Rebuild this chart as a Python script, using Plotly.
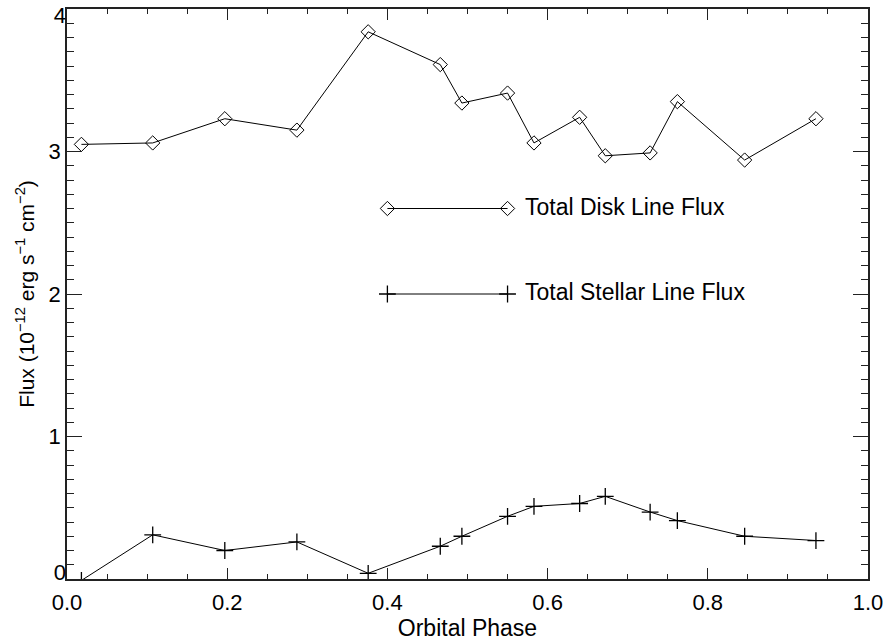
import plotly.graph_objects as go

# Orbital phase of each observation
phase = [0.018, 0.107, 0.197, 0.287, 0.376, 0.466, 0.493, 0.550,
         0.583, 0.640, 0.672, 0.728, 0.762, 0.846, 0.935]

# Total disk line flux (10^-12 erg s^-1 cm^-2)
disk_flux = [3.05, 3.06, 3.23, 3.15, 3.84, 3.61, 3.34, 3.41,
             3.06, 3.24, 2.97, 2.99, 3.35, 2.94, 3.23]

# Total stellar line flux (10^-12 erg s^-1 cm^-2)
stellar_flux = [-0.01, 0.31, 0.20, 0.26, 0.04, 0.23, 0.30, 0.44,
                0.51, 0.53, 0.58, 0.47, 0.41, 0.30, 0.27]

# Axis tick values
x_ticks = [0.0, 0.2, 0.4, 0.6, 0.8, 1.0]
y_ticks_inner = [1, 2, 3]
y_tick_bottom = [0]
y_tick_top = [4]
y_range = [0.0, 4.0]

# In-plot key: sample line ends and labels
key_x = [0.40, 0.55]
key_disk_y = [2.6, 2.6]
key_stellar_y = [2.0, 2.0]
key_labels = ["Total Disk Line Flux", "Total Stellar Line Flux"]

FONT = "Liberation Sans, Arial, Helvetica, sans-serif"
line_style = dict(color="black", width=1)
diamond = dict(symbol="diamond-open", size=11, color="black",
               line=dict(width=1, color="black"))
cross = dict(symbol="cross-thin-open", size=12, color="black",
             line=dict(width=1.3, color="black"))

fig = go.Figure()

fig.add_trace(go.Scatter(x=phase, y=disk_flux, mode="lines+markers",
                         line=line_style, marker=diamond, showlegend=False))
fig.add_trace(go.Scatter(x=phase, y=stellar_flux, mode="lines+markers",
                         line=line_style, marker=cross, showlegend=False))

# Key samples
fig.add_trace(go.Scatter(x=key_x, y=key_disk_y, mode="lines+markers",
                         line=line_style, marker=diamond, showlegend=False))
fig.add_trace(go.Scatter(x=key_x, y=key_stellar_y, mode="lines+markers",
                         line=line_style, marker=cross, showlegend=False))

for y, label in zip([key_disk_y[0], key_stellar_y[0]], key_labels):
    fig.add_annotation(
        x=key_x[1], y=y, text=label, showarrow=False,
        xanchor="left", yanchor="middle", xshift=15, yshift=2,
        font=dict(family=FONT, size=23, color="black"),
    )

tick_font = dict(family=FONT, size=22, color="black")
axis_common = dict(
    showgrid=False, zeroline=False,
    showline=True, linecolor="#222", linewidth=1.5,
    mirror="ticks", ticks="inside", tickcolor="#222", tickwidth=1,
    tickfont=tick_font, ticklabeloverflow="allow", automargin=False,
)

fig.update_xaxes(
    range=[0.0, 1.0], tickmode="array", tickvals=x_ticks,
    ticktext=[f"{v:.1f}" for v in x_ticks], ticklen=11,
    minor=dict(dtick=0.05, ticklen=5, ticks="inside", tickcolor="#222", tickwidth=1),
    title=dict(text="Orbital Phase", font=dict(family=FONT, size=23, color="black"),
               standoff=0),
    ticklabelstandoff=3,
    **axis_common,
)

# Main y axis: frame, all tick marks, labels of the inner ticks
fig.update_yaxes(
    range=y_range, tickmode="array",
    tickvals=y_tick_bottom + y_ticks_inner + y_tick_top,
    ticktext=[""] + [str(v) for v in y_ticks_inner] + [""], ticklen=15,
    minor=dict(dtick=0.1, ticklen=7, ticks="inside", tickcolor="#222", tickwidth=1),
    title=dict(text="Flux (10<sup>−12</sup> erg s<sup>−1</sup> cm<sup>−2</sup>)",
               font=dict(family=FONT, size=21, color="black"), standoff=8),
    **axis_common,
)

# End labels of the y axis sit just inside the frame
end_axis = dict(
    range=y_range, overlaying="y", side="left", anchor="x",
    showgrid=False, zeroline=False, showline=False, ticks="",
    tickfont=tick_font, ticklabeloverflow="allow", automargin=False,
    tickmode="array",
)
fig.update_layout(
    yaxis2=dict(tickvals=y_tick_bottom, ticktext=[str(v) for v in y_tick_bottom],
                ticklabelshift=-7, **end_axis),
    yaxis3=dict(tickvals=y_tick_top, ticktext=[str(v) for v in y_tick_top],
                ticklabelshift=6, **end_axis),
)
# Empty carriers so the end-label axes are drawn
for axis_id in ("y2", "y3"):
    fig.add_trace(go.Scatter(x=[None], y=[None], yaxis=axis_id,
                             showlegend=False, hoverinfo="skip"))

fig.update_layout(
    width=888, height=641,
    margin=dict(l=67, r=20, t=9, b=62),
    paper_bgcolor="white", plot_bgcolor="white",
    font=dict(family=FONT, color="black"),
)

fig.write_html("out.html")
